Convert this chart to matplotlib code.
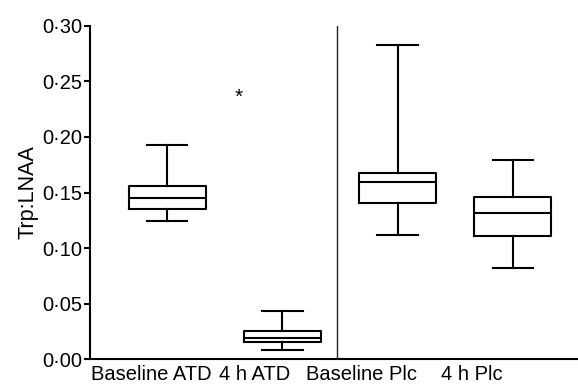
import matplotlib
matplotlib.use("Agg")
import matplotlib.pyplot as plt

# group labels and box statistics
groups = ['Baseline ATD', '4 h ATD', 'Baseline Plc', '4 h Plc']
whisker_low = [0.1246, 0.0082, 0.1117, 0.0817]
q1 = [0.1349, 0.0156, 0.1408, 0.1105]
median = [0.1453, 0.0192, 0.1598, 0.1315]
q3 = [0.1560, 0.0253, 0.1676, 0.1460]
whisker_high = [0.1928, 0.0432, 0.2826, 0.1790]

yticks = [0.00, 0.05, 0.10, 0.15, 0.20, 0.25, 0.30]

plt.rcParams['font.family'] = ['Liberation Sans', 'DejaVu Sans']

fig = plt.figure(figsize=(5.78, 3.85), dpi=100)
ax = fig.add_axes([0.1557, 0.0675, 0.8443, 0.865])

stats = []
for i in range(len(groups)):
    stats.append({'whislo': whisker_low[i], 'q1': q1[i], 'med': median[i],
                  'q3': q3[i], 'whishi': whisker_high[i], 'fliers': []})

pos = [1, 2, 3, 4]
line = dict(color='black', linewidth=1.5)
ax.bxp(stats, positions=pos, widths=0.67, showfliers=False,
       boxprops=line, medianprops=line, whiskerprops=line,
       capprops=line, capwidths=0.35)

# divider between ATD and placebo
ax.plot([2.47, 2.47], [0, 0.30], color='#222222', linewidth=1.0)

# significance marker
ax.text(1.62, 0.236, '*', ha='center', va='center', fontsize=15)

ax.set_xlim(0.33, 4.565)
ax.set_ylim(0, 0.30)
ax.set_yticks(yticks)
ax.set_yticklabels(['{:.2f}'.format(v).replace('.', '\u00b7') for v in yticks])
ax.set_xticks([0.865, 1.76, 2.69, 3.64])
ax.set_xticklabels(groups)
ax.tick_params(axis='x', length=0, pad=4, labelsize=14.5)
ax.tick_params(axis='y', length=4.5, width=1.5, pad=1, labelsize=14.5)
ax.set_ylabel('Trp:LNAA', fontsize=15.5, labelpad=3)

ax.spines['top'].set_visible(False)
ax.spines['right'].set_visible(False)
ax.spines['left'].set_linewidth(1.5)
ax.spines['bottom'].set_linewidth(1.5)

fig.savefig('out.png', dpi=100)
